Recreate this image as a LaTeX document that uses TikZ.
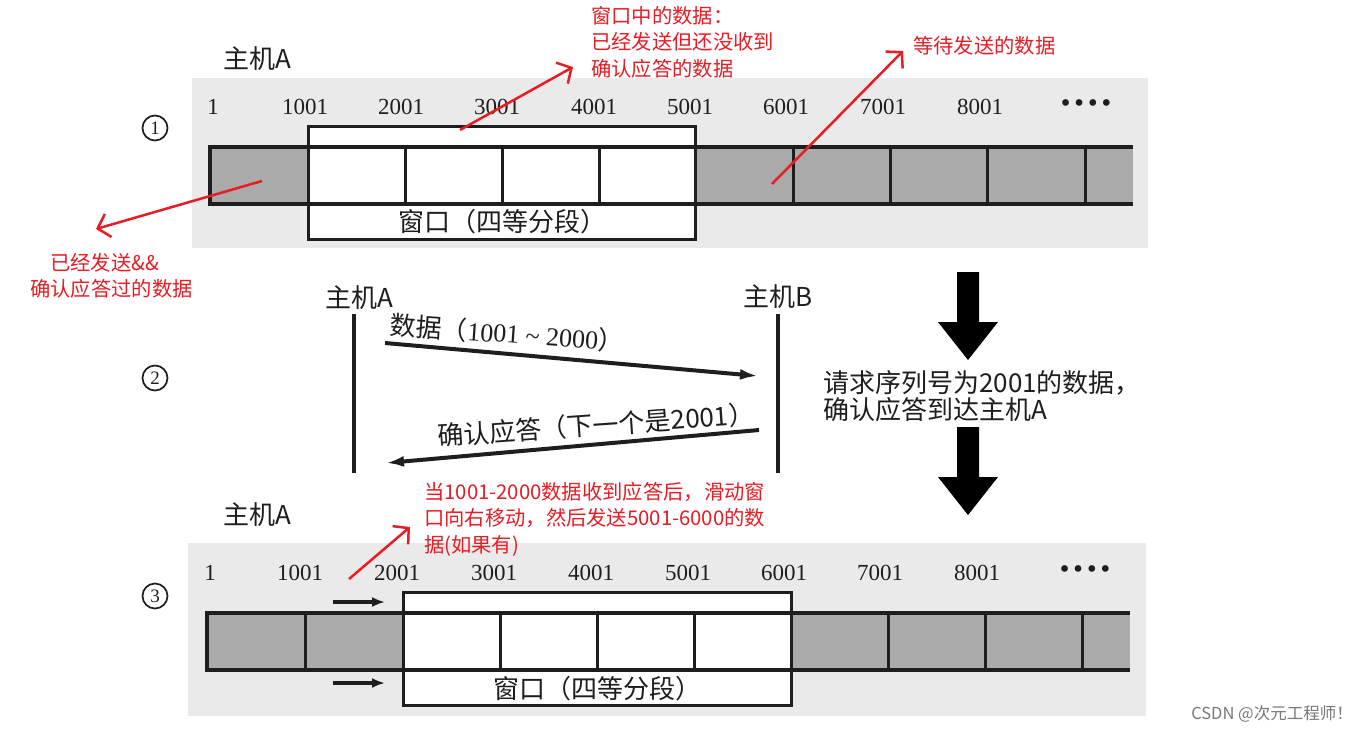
\documentclass[tikz,border=0pt]{standalone}
\usepackage{fontspec}
\setmainfont{Liberation Serif}
\newfontfamily\cjk{Noto Sans CJK SC}
\newfontfamily\dejavu{DejaVu Sans}
\usetikzlibrary{arrows.meta}
\definecolor{myred}{RGB}{232,28,36}
\definecolor{ink}{RGB}{30,30,30}
\definecolor{bgray}{RGB}{234,234,234}
\definecolor{cgray}{RGB}{170,170,170}
\definecolor{wm}{RGB}{120,120,120}
\tikzset{
  numlbl/.style={font=\fontsize{23}{23}\selectfont, text=ink, inner sep=0pt},
  dotlbl/.style={font=\dejavu\fontsize{23}{23}\selectfont, text=ink, inner sep=0pt},
  cjklbl/.style={font=\cjk\fontsize{26}{26}\selectfont, text=ink, inner sep=0pt},
  midlbl/.style={font=\cjk\fontsize{26}{26}\selectfont, text=ink, inner sep=0pt},
  redtxt/.style={font=\cjk\fontsize{20.3}{26.5}\selectfont, text=myred, inner sep=0pt, align=left},
  redarrow/.style={draw=myred, line width=2.5pt, -{Straight Barb[length=11pt,width=24pt]}},
  cellfill/.style={fill=cgray},
  barline/.style={draw=ink, line width=3.2pt},
  divline/.style={draw=ink, line width=3pt},
  winbox/.style={draw=ink, line width=3pt, fill=white},
  circnum/.style={circle, draw=ink, line width=1.7pt, minimum size=25pt, inner sep=0pt, font=\fontsize{19}{19}\selectfont, text=ink},
  hostline/.style={draw=ink, line width=3.4pt},
  msgarrow/.style={draw=ink, line width=4pt, -{Latex[length=18pt,width=11pt]}},
  shiftarrow/.style={draw=ink, line width=3.4pt, -{Latex[length=13pt,width=10pt]}},
  bigarrow/.style={fill=black}
}
\begin{document}
\begin{tikzpicture}[x=1pt,y=-1pt]
\useasboundingbox (0,0) rectangle (1365,732);
\fill[white] (0,0) rectangle (1365,732);

% ================= panel 1 =================
\fill[bgray] (192,78) rectangle (1148,248);
\node[cjklbl] (hA1) at (257,59) {主机A};
\node[circnum] (c1) at (155,128) {1};
\foreach \x/\t/\n in {213/1/a,305/1001/b,401/2001/c,497/3001/d,594/4001/e,690/5001/f,786/6001/g,883/7001/h,980/8001/i}
  \node[numlbl] (tn\n) at (\x,107) {\t};
\node[dotlbl] (tdots) at (1086,106) {••••};
\fill[cellfill] (210,147) rectangle (308,204);
\fill[cellfill] (695,147) rectangle (1133,204);
\draw[winbox] (308,126) rectangle (695,239);
\draw[barline] (1133,147) -- (210,147) -- (210,204) -- (1133,204);
\foreach \x in {405,502,599,793,890,987,1085}
  \draw[divline] (\x,147) -- (\x,204);
\draw[divline] (308,147) -- (308,204);
\draw[divline] (695,147) -- (695,204);
\node[cjklbl] (win1) at (502,222) {窗口（四等分段）};

% red notes, panel 1
\node[redtxt, anchor=north west] (n1) at (591,6) {窗口中的数据：\\已经发送但还没收到\\确认应答的数据};
\node[redtxt, anchor=west] (n2) at (913,46) {等待发送的数据};
\node[redtxt, anchor=north west] (n3) at (30,253) {\hspace{20pt}已经发送\&\&\\确认应答过的数据};
\coordinate (r1s) at (460,130); \coordinate (r1e) at (573,67);
\coordinate (r2s) at (772,184); \coordinate (r2e) at (903,51);
\coordinate (r3s) at (262,181); \coordinate (r3e) at (96,229);
\draw[redarrow] (r1s) -- (r1e);
\draw[redarrow] (r2s) -- (r2e);
\draw[redarrow] (r3s) -- (r3e);

% ================= panel 2 =================
\node[circnum] (c2) at (155,378) {2};
\node[cjklbl] (hA2) at (359,298) {主机A};
\node[cjklbl] (hB2) at (778,297) {主机B};
\coordinate (aTop) at (354,314); \coordinate (aBot) at (354,473);
\coordinate (bTop) at (778,314); \coordinate (bBot) at (778,473);
\draw[hostline] (aTop) -- (aBot);
\draw[hostline] (bTop) -- (bBot);
\coordinate (m1s) at (385,343); \coordinate (m1e) at (758,376);
\coordinate (m2s) at (759,430); \coordinate (m2e) at (386,463);
\draw[msgarrow] (m1s) -- (m1e);
\draw[msgarrow] (m2s) -- (m2e);
\node[midlbl, rotate=-4] (l1) at (507,333) {数据（{\rmfamily 1001 \textasciitilde{} 2000}）};
\node[midlbl, rotate=4] (l2) at (596,425) {确认应答（下一个是2001）};

\fill[bigarrow] (957,272) -- (979,272) -- (979,322) -- (998,322) -- (968,360) -- (938,322) -- (957,322) -- cycle;
\fill[bigarrow] (957,427) -- (979,427) -- (979,477) -- (998,477) -- (968,515) -- (938,477) -- (957,477) -- cycle;
\node[cjklbl, anchor=west, align=left, font=\cjk\fontsize{26}{27.5}\selectfont] (req) at (823,396) {请求序列号为2001的数据，\\确认应答到达主机A};

% ================= panel 3 =================
\fill[bgray] (188,543) rectangle (1146,716);
\node[cjklbl] (hA3) at (257,515) {主机A};
\node[circnum] (c3) at (155,596) {3};
\foreach \x/\t/\n in {210/1/a,300/1001/b,397/2001/c,494/3001/d,591/4001/e,688/5001/f,784/6001/g,880/7001/h,977/8001/i}
  \node[numlbl] (bn\n) at (\x,573) {\t};
\node[dotlbl] (bdots) at (1085,572) {••••};
\fill[cellfill] (207,613) rectangle (403,670);
\fill[cellfill] (791,613) rectangle (1130,670);
\draw[winbox] (403,592) rectangle (791,705);
\draw[barline] (1130,613) -- (207,613) -- (207,670) -- (1130,670);
\foreach \x in {305,500,597,694,888,985,1082}
  \draw[divline] (\x,613) -- (\x,670);
\draw[divline] (403,613) -- (403,670);
\draw[divline] (791,613) -- (791,670);
\node[cjklbl] (win3) at (597,689) {窗口（四等分段）};
\coordinate (s1s) at (333,602); \coordinate (s1e) at (385,602);
\coordinate (s2s) at (333,683); \coordinate (s2e) at (385,683);
\draw[shiftarrow] (s1s) -- (s1e);
\draw[shiftarrow] (s2s) -- (s2e);

\node[redtxt, anchor=north west] (n4) at (424,482) {当1001-2000数据收到应答后，滑动窗\\口向右移动，然后发送5001-6000的数\\据(如果有)};
\coordinate (r4s) at (349,579); \coordinate (r4e) at (410,527);
\draw[redarrow] (r4s) -- (r4e);

\node[font=\cjk\fontsize{16.5}{16.5}\selectfont, text=wm, anchor=east, inner sep=0pt] (wmk) at (1353,714) {CSDN @次元工程师！};
\end{tikzpicture}
\end{document}
